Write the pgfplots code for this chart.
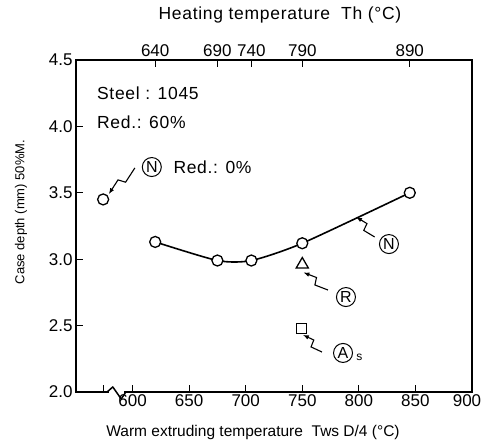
\documentclass[border=0pt]{standalone}
\usepackage{fontspec}
\setmainfont{Liberation Sans}[LetterSpace=4]
\newfontfamily\plainf{Liberation Sans}
\usepackage{pgfplots}
\pgfplotsset{compat=1.18}
\usetikzlibrary{calc,arrows.meta}
\newcommand\bolt[2]{\draw[line width=1.1pt,-{Latex[length=6pt,width=4.5pt]}] #1 -- ($#1!0.45!#2!3.5pt!90:#2$) -- ($#1!0.55!#2!3.5pt!-90:#2$) -- #2;}
\tikzset{circ/.style={circle,draw,line width=1pt,inner sep=0pt,minimum size=19pt,font=\plainf\fontsize{16}{16}\selectfont}}
\newcommand\fs{\fontsize{17.5}{20}\selectfont}
\newcommand\ft{\plainf\fontsize{17}{20}\selectfont}
\begin{document}
\begin{tikzpicture}
\pgfplotsset{
  common/.style={
    scale only axis, width=396pt, height=332pt,
    xmin=550, xmax=900, ymin=2.0, ymax=4.5,
    axis line style={line width=1.6pt},
    every tick/.style={black, line width=1.1pt},
    major tick length=7pt,
    tick align=inside,
    tick label style={font=\ft},
    /pgf/number format/assume math mode=true,
    clip=false,
  }
}
\begin{axis}[common, name=ax,
  xtick={574,600,650,700,750,800,850,900},
  xticklabels={,600,650,700,750,800,850,},
  xtick pos=bottom, ytick pos=left,
  ytick={2.0,2.5,3.0,3.5,4.0,4.5},
  yticklabel style={/pgf/number format/.cd,fixed,fixed zerofill,precision=1},
  xticklabel style={yshift=1pt},
]
\addplot[line width=1.6pt, smooth, tension=0.4, mark=*, mark size=5.5pt,
  mark options={fill=white, draw=black, line width=1.3pt}]
  coordinates {(620,3.13) (675,2.99) (705,2.99) (750,3.12) (845,3.50)};
\addplot[only marks, mark=*, mark size=5.5pt,
  mark options={fill=white, draw=black, line width=1.3pt}]
  coordinates {(574,3.45)};
\addplot[only marks, mark=triangle, mark size=7pt,
  mark options={fill=white, draw=black, line width=1.3pt}]
  coordinates {(750,2.96)};
\addplot[only marks, mark=square, mark size=5pt,
  mark options={fill=white, draw=black, line width=1.3pt}]
  coordinates {(749,2.48)};
\node[anchor=north, inner sep=0.333em, font=\ft, xshift=-5pt, yshift=1pt] at (axis cs:900,2) {900};
\node[anchor=west, inner sep=0pt, font=\fs] at (axis cs:568.5,4.252) {Steel : 1045};
\node[anchor=west, inner sep=0pt, font=\fs] at (axis cs:568.5,4.03) {Red.: 60\%};
\node[circ] at (axis cs:617,3.694) {N};
\node[anchor=west, inner sep=0pt, font=\fs] at (axis cs:636,3.694) {Red.: 0\%};
\bolt{(axis cs:602,3.687)}{(axis cs:579,3.49)}
\node[circ] at (axis cs:826.6,3.114) {N};
\bolt{(axis cs:814,3.167)}{(axis cs:797.5,3.318)}
\node[circ] at (axis cs:788.6,2.715) {R};
\bolt{(axis cs:772.7,2.768)}{(axis cs:751,2.90)}
\node[circ] at (axis cs:786,2.294) {A};
\node[font=\plainf\fontsize{12}{12}\selectfont] at (axis cs:800.5,2.262) {s};
\bolt{(axis cs:767.4,2.301)}{(axis cs:750.5,2.43)}
\node[rotate=90, font=\plainf\fontsize{13}{15}\selectfont] at (axis description cs:-0.139,0.542) {Case depth (mm) 50\%M.};
\node[font=\plainf\fontsize{15.5}{18}\selectfont] at (axis description cs:0.447,-0.123) {Warm extruding temperature\ \ Tws D/4 (°C)};
\node[font=\fs] at (axis description cs:0.515,1.136) {Heating temperature\ \ Th (°C)};
\end{axis}
\begin{axis}[common,
  axis x line*=top, hide y axis,
  xtick={620,675,705,750,845},
  xticklabels={640,690,740,790,890},
]
\addplot[draw=none] coordinates {(600,3)};
\draw[white, line width=3pt] (axis cs:579.5,2) -- (axis cs:592.5,2);
\draw[line width=1.5pt, line join=round] (axis cs:577.5,2) -- (axis cs:582.5,2.038) -- (axis cs:590,1.947) -- (axis cs:594,2);
\end{axis}
\pgfresetboundingbox
\path ($(ax.south west)+(-76pt,-51pt)$) rectangle ($(ax.north east)+(10pt,60pt)$);
\end{tikzpicture}
\end{document}
